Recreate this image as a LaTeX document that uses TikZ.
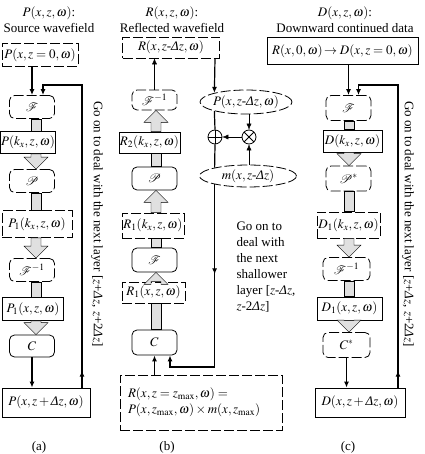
\documentclass[tikz,border=0pt]{standalone}
\usepackage{mathptmx}
\usepackage{mathrsfs}
\usepackage[no-math]{fontspec}
\setmainfont{Liberation Serif}
\usetikzlibrary{arrows.meta,calc,shapes.geometric,decorations.markings}
\newcommand{\dlt}{\mbox{\itshape Δ}}
\newcommand{\hy}{\mbox{-}}
\newcommand{\fatbar}[2]{\path[draw, fill=black!12] let \p1=(#1), \p2=(#2) in (\x1-5pt,\y1) rectangle (\x1+5pt,\y2);}
\newcommand{\fathead}[2]{\path[draw, fill=black!12] let \p1=(#1), \p2=(#2), \n1={ifthenelse(\y2>\y1,12,-12)} in
  (\x1-5pt,\y1) -- (\x1-5pt,\y2-\n1) -- (\x1-12pt,\y2-\n1) -- (\x1,\y2) -- (\x1+12pt,\y2-\n1) -- (\x1+5pt,\y2-\n1) -- (\x1+5pt,\y1) -- cycle;}

\begin{document}
\begin{tikzpicture}[x=1pt, y=-1pt,
  every node/.style={font=\fontsize{13}{16}\selectfont},
  flow/.style={line width=1.2pt},
  brk/.style={dash pattern=on 10pt off 3pt},
  dbox/.style={draw, line width=0.8pt, fill=white, inner sep=1pt},
  op/.style={draw, line width=0.8pt, fill=white, rounded corners=5pt, inner sep=0pt, minimum width=45pt, minimum height=23pt},
  oval/.style={ellipse, draw, line width=0.8pt, brk, fill=white, inner sep=0pt},
  junc/.style={circle, draw, line width=0.8pt, fill=white, minimum size=14pt, inner sep=0pt},
  plusj/.style={junc, path picture={\draw (path picture bounding box.north) -- (path picture bounding box.south) (path picture bounding box.west) -- (path picture bounding box.east);}},
  timesj/.style={junc, path picture={\draw (path picture bounding box.north west) -- (path picture bounding box.south east) (path picture bounding box.north east) -- (path picture bounding box.south west);}},
  arr/.style={-{Latex[length=6pt,width=5pt]}},
  midarr/.style={postaction={decorate}, decoration={markings, mark=at position #1 with {\arrow{Latex[length=6pt,width=5pt]}}}}]
  \useasboundingbox (0,0) rectangle (424,454);
  \coordinate (colA) at (36,0); \coordinate (colB) at (156,0); \coordinate (colC) at (349,0);
  \coordinate (aloop) at (82,85); \coordinate (bloop) at (215,367); \coordinate (cloop) at (398,85);

  \node[align=center] (ta) at (49,20) {$P(x,z,\omega)$:\\Source wavefield};
  \node[dbox, brk, minimum width=76pt, minimum height=23pt] (a0) at (40,55) {$P(x,z=0,\omega)$};
  \node[op, brk] (aF) at (32,107) {$\mathscr{F}$};
  \node[dbox, minimum width=52pt, minimum height=22pt] (ak) at (28,142.5) {$P(k_x,z,\omega)$};
  \node[op, brk] (aP) at (32,181) {$\mathscr{P}$};
  \node[dbox, brk, minimum width=70pt, minimum height=27pt] (ak1) at (37,224) {$P_1(k_x,z,\omega)$};
  \node[op, brk] (aFi) at (32,270) {$\mathscr{F}^{-1}$};
  \node[dbox, minimum width=61pt, minimum height=23pt] (ax1) at (33,309) {$P_1(x,z,\omega)$};
  \node[op, minimum height=22pt] (aC) at (32,346) {$C$};
  \node[dbox, minimum width=88pt, minimum height=29pt] (an) at (46,402.5) {$P(x,z+\dlt z,\omega)$};
  \node[rotate=-90] (ga) at (97,224) {Go on to deal with the next layer [$z$+$\dlt z$, $z$+2$\dlt z$]};
  \node (la) at (39,447) {(a)};

  \node[align=center] (tb) at (172,20) {$R(x,z,\omega)$:\\Reflected wavefield};
  \node[dbox, brk, minimum width=97pt, minimum height=21pt] (bR) at (171,47.5) {$R(x,z\hy\dlt z,\omega)$};
  \node[op, brk, minimum height=20pt] (bFi) at (154.5,100) {$\mathscr{F}^{-1}$};
  \node[dbox, minimum width=55pt, minimum height=21pt] (bk2) at (149.5,142.5) {$R_2(k_x,z,\omega)$};
  \node[op] (bP) at (154.5,178.5) {$\mathscr{P}$};
  \node[dbox, brk, minimum width=62pt, minimum height=25pt] (bk1) at (153,225.5) {$R_1(k_x,z,\omega)$};
  \node[op, minimum height=24pt] (bF) at (154.5,260) {$\mathscr{F}$};
  \node[dbox, brk, minimum width=63pt, minimum height=21pt] (bx1) at (153.5,292.5) {$R_1(x,z,\omega)$};
  \node[op, minimum height=25pt] (bC) at (154.5,342.5) {$C$};
  \node[dbox, brk, align=left, text width=146pt, inner xsep=8pt, minimum height=55pt] (bn) at (201,402.5) {$R(x,z=z_{\mathrm{max}},\omega)=$\\$P(x,z_{\mathrm{max}},\omega)\times m(x,z_{\mathrm{max}})$};
  \node[oval, minimum width=92pt, minimum height=24pt] (eP) at (246,102) {\makebox[0pt]{$P(x,z\hy\dlt z,\omega)$}};
  \node[oval, minimum width=97pt, minimum height=22pt] (eM) at (248,176) {\makebox[0pt]{$m(x,z\hy\dlt z)$}};
  \node[timesj] (mul) at (249,137) {};
  \node[plusj] (add) at (215,137) {};
  \node[anchor=north west, align=left] (gb) at (233,218) {Go on to\\deal with\\the next\\shallower\\layer [$z$-$\dlt z$,\\$z$-2$\dlt z$]};
  \node (lb) at (167,447) {(b)};

  \node[align=center] (tc) at (345,20) {$D(x,z,\omega)$:\\Downward continued data};
  \node[dbox, minimum width=151pt, minimum height=27pt] (c0) at (342.5,51) {$R(x,0,\omega)\!\rightarrow D(x,z=0,\omega)$};
  \node[op, brk, minimum height=25pt] (cF) at (348.5,108) {$\mathscr{F}$};
  \node[dbox, minimum width=59pt, minimum height=22pt] (ck) at (352.5,141) {$D(k_x,z,\omega)$};
  \node[op, brk, minimum height=25pt] (cP) at (348.5,178.5) {$\mathscr{P}^{*}$};
  \node[dbox, brk, minimum width=63pt, minimum height=26pt] (ck1) at (348.5,225) {$D_1(k_x,z,\omega)$};
  \node[op, brk, minimum width=47pt] (cFi) at (346.5,269) {$\mathscr{F}^{-1}$};
  \node[dbox, minimum width=65pt, minimum height=23pt] (cx1) at (349.5,308.5) {$D_1(x,z,\omega)$};
  \node[op, brk, minimum width=47pt, minimum height=25pt] (cC) at (346.5,345) {$C^{*}$};
  \node[dbox, minimum width=90pt, minimum height=29pt] (cn) at (360,402.5) {$D(x,z+\dlt z,\omega)$};
  \node[rotate=-90] (gc) at (408,224) {Go on to deal with the next layer [$z$+$\dlt z$, $z$+2$\dlt z$]};
  \node (lc) at (348,447) {(c)};

  \foreach \s/\t/\k in {aF/ak/\fatbar, ak/aP/\fathead, aP/ak1/\fatbar, ak1/aFi/\fathead, aFi/ax1/\fatbar, ax1/aC/\fathead}
    {\k{\s.south -| colA}{\t.north -| colA}}
  \foreach \s/\t/\k in {bC/bx1/\fatbar, bx1/bF/\fathead, bF/bk1/\fatbar, bk1/bP/\fathead, bP/bk2/\fatbar, bk2/bFi/\fathead}
    {\k{\s.north -| colB}{\t.south -| colB}}
  \foreach \s/\t/\k in {cF/ck/\fatbar, ck/cP/\fathead, cP/ck1/\fatbar, ck1/cFi/\fathead, cFi/cx1/\fatbar, cx1/cC/\fathead}
    {\k{\s.south -| colC}{\t.north -| colC}}

  \draw[arr, flow] (a0.south -| aF.north) -- (aF.north);
  \draw[arr, flow] (aC.south) -- (aC.south |- an.north);
  \draw[arr, flow, midarr=17pt] (an.north -| aloop) -- (aloop) -| ([xshift=11pt]aF.north);

  \draw[arr] (bFi.north) -- (bFi.north |- bR.south);
  \draw[arr, flow] (bR.south -| add) -- (eP.164);
  \draw[flow] (eP.196) -- (add.north) (add.south) -- (eM.166);
  \draw[arr] (eP.south -| mul) -- (mul.north);
  \draw[arr] (eM.north -| mul) -- (mul.south);
  \draw[arr] (mul.west) -- (add.east);
  \draw[arr, flow, midarr=90pt] (eM.194) -- (eM.194 |- bloop) -| ([xshift=15.5pt]bC.south);
  \draw[arr, flow] (bn.north -| bC.south) -- (bC.south);

  \draw[arr, flow] (c0.south -| cF.north) -- (cF.north);
  \draw[arr, flow] (cC.south) -- (cC.south |- cn.north);
  \draw[arr, flow, midarr=17pt] (cn.north -| cloop) -- (cloop) -| ([xshift=10pt]cF.north);
\end{tikzpicture}
\end{document}
